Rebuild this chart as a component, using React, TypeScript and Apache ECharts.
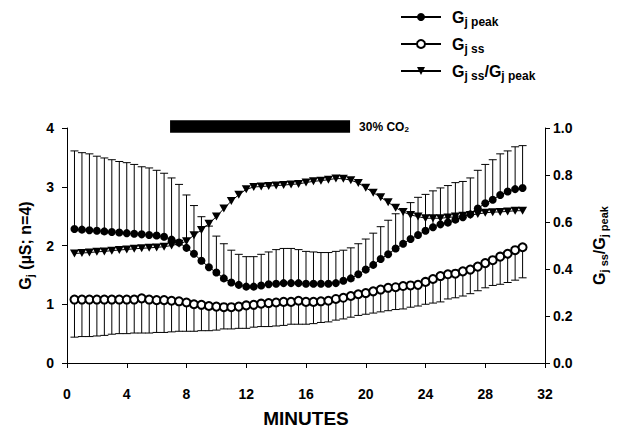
import React, { useEffect, useRef } from "react";
import * as echarts from "echarts";

// minutes 0.5 .. 30.5, every 0.5 min
const minutes: number[] = Array.from({ length: 61 }, (_, i) => 0.5 + i * 0.5);

const gPeak: number[] = [
  2.28, 2.27, 2.26, 2.25, 2.24, 2.23, 2.22, 2.21, 2.2, 2.19,
  2.18, 2.17, 2.15, 2.1, 2.05, 1.96, 1.86, 1.74, 1.63, 1.54,
  1.44, 1.37, 1.33, 1.3, 1.3, 1.32, 1.34, 1.35, 1.36, 1.36,
  1.36, 1.35, 1.35, 1.35, 1.35, 1.36, 1.4, 1.44, 1.51, 1.59,
  1.67, 1.77, 1.85, 1.95, 2.03, 2.11, 2.18, 2.25, 2.31, 2.36,
  2.39, 2.44, 2.48, 2.53, 2.63, 2.72, 2.78, 2.86, 2.92, 2.96,
  2.98,
];
const gPeakUpper: number[] = [
  3.61, 3.58, 3.56, 3.52, 3.49, 3.46, 3.43, 3.41, 3.38, 3.34,
  3.32, 3.28, 3.23, 3.15, 3.04, 2.86, 2.68, 2.49, 2.33, 2.16,
  2.03, 1.92, 1.85, 1.81, 1.81, 1.85, 1.89, 1.93, 1.95, 1.95,
  1.93, 1.9, 1.89, 1.88, 1.88, 1.9, 1.92, 1.96, 2.03, 2.11,
  2.21, 2.32, 2.43, 2.54, 2.63, 2.73, 2.82, 2.87, 2.93, 2.98,
  3.02, 3.07, 3.09, 3.15, 3.28, 3.38, 3.46, 3.56, 3.61, 3.68,
  3.7,
];
const gSS: number[] = [
  1.08, 1.08, 1.08, 1.08, 1.08, 1.08, 1.08, 1.08, 1.08, 1.1,
  1.08, 1.07, 1.07, 1.06, 1.05, 1.03, 1.0, 0.99, 0.97, 0.96,
  0.95, 0.95, 0.96, 0.98, 0.99, 1.01, 1.02, 1.03, 1.04, 1.04,
  1.06, 1.04, 1.04, 1.05, 1.06, 1.09, 1.11, 1.14, 1.17, 1.19,
  1.22, 1.25, 1.28, 1.29, 1.31, 1.32, 1.33, 1.38, 1.43, 1.48,
  1.51, 1.52, 1.56, 1.59, 1.64, 1.7, 1.75, 1.81, 1.86, 1.92,
  1.97,
];
const gSSLower: number[] = [
  0.44, 0.45, 0.45, 0.46, 0.47, 0.49, 0.5, 0.5, 0.51, 0.51,
  0.51, 0.52, 0.52, 0.53, 0.54, 0.54, 0.54, 0.55, 0.55, 0.56,
  0.58, 0.58, 0.59, 0.59, 0.61, 0.62, 0.62, 0.63, 0.64, 0.66,
  0.66, 0.66, 0.67, 0.69, 0.7, 0.73, 0.75, 0.78, 0.81, 0.83,
  0.85, 0.87, 0.89, 0.91, 0.92, 0.95, 0.97, 1.0, 1.02, 1.04,
  1.09, 1.11, 1.14, 1.18, 1.23, 1.28, 1.32, 1.34, 1.37, 1.41,
  1.45,
];
const ratio: number[] = [
  0.466, 0.468, 0.47, 0.473, 0.475, 0.478, 0.481, 0.483, 0.486, 0.488,
  0.49, 0.492, 0.495, 0.5, 0.507, 0.518, 0.544, 0.566, 0.593, 0.623,
  0.657, 0.689, 0.716, 0.739, 0.749, 0.751, 0.753, 0.755, 0.757, 0.76,
  0.762, 0.768, 0.773, 0.776, 0.78, 0.785, 0.784, 0.778, 0.766, 0.746,
  0.725, 0.705, 0.684, 0.661, 0.643, 0.63, 0.623, 0.616, 0.616, 0.616,
  0.619, 0.623, 0.627, 0.63, 0.634, 0.639, 0.642, 0.643, 0.645, 0.648,
  0.648,
];

// CO2 exposure period (minutes) and bar vertical extent (left-axis units)
const co2Period: number[] = [6.9, 18.95];
const co2BarY: number[] = [3.92, 4.13];
const co2Label = "30% CO";

const seriesNames: string[] = ["Gj peak", "Gj ss", "Gj ss/Gj peak"];
const legendLabels: string[] = [
  "{h|G}{s|j peak}",
  "{h|G}{s|j ss}",
  "{h|G}{s|j ss}{g|/G}{s|j peak}",
];

const FONT = "'Liberation Sans', Arial, Helvetica, sans-serif";

const richBig = {
  g: { fontSize: 16, fontWeight: "bold", fontFamily: FONT, color: "#000" },
  s: { fontSize: 11, fontWeight: "bold", fontFamily: FONT, color: "#000", padding: [9, 0, 0, 0] },
};
const richLegend = {
  h: { fontSize: 16, fontWeight: "bold", fontFamily: FONT, color: "#000", padding: [0, 0, 0, 6] },
  g: { fontSize: 16, fontWeight: "bold", fontFamily: FONT, color: "#000" },
  s: { fontSize: 12, fontWeight: "bold", fontFamily: FONT, color: "#000", padding: [9, 0, 0, 0] },
};

function errorBarRender(params: any, api: any) {
  const x = api.value(0);
  const m = api.value(1);
  const e = api.value(2);
  const p1 = api.coord([x, m]);
  const p2 = api.coord([x, e]);
  const hw = 4;
  const st = { stroke: "#000", lineWidth: 1, fill: "none" };
  return {
    type: "group",
    children: [
      { type: "line", shape: { x1: p1[0], y1: p1[1], x2: p2[0], y2: p2[1] }, style: st },
      { type: "line", shape: { x1: p2[0] - hw, y1: p2[1], x2: p2[0] + hw, y2: p2[1] }, style: st },
    ],
  };
}

function co2Render(params: any, api: any) {
  const a = api.coord([api.value(0), api.value(3)]);
  const b = api.coord([api.value(1), api.value(2)]);
  return {
    type: "group",
    children: [
      { type: "rect", shape: { x: a[0], y: a[1], width: b[0] - a[0], height: b[1] - a[1] }, style: { fill: "#000" } },
      {
        type: "text",
        x: b[0] + 9,
        y: (a[1] + b[1]) / 2,
        style: {
          text: "{a|" + co2Label + "}{b|2}",
          align: "left",
          verticalAlign: "middle",
          rich: {
            a: { fontSize: 12, fontWeight: "bold", fontFamily: FONT, fill: "#000" },
            b: { fontSize: 8, fontWeight: "bold", fontFamily: FONT, fill: "#000", padding: [6, 0, 0, 0] },
          },
        },
      },
    ],
  };
}

export default function App() {
  const ref = useRef<HTMLDivElement>(null);
  useEffect(() => {
    if (!ref.current) return;
    const chart = echarts.init(ref.current, undefined, { renderer: "svg" });
    const axisLabelStyle = { fontSize: 14, fontWeight: "bold" as const, fontFamily: FONT, color: "#000" };
    const lineAxis = { show: true, lineStyle: { color: "#000", width: 1 } };
    const tick = { show: true, length: 5, lineStyle: { color: "#000", width: 1 } };

    const legendTops = [9, 36, 63];
    const option: any = {
      animation: false,
      backgroundColor: "#fff",
      grid: { left: 67, right: 74, top: 128, bottom: 61, containLabel: false },
      legend: legendTops.map((t, i) => ({
        data: [seriesNames[i]],
        left: 400,
        top: t,
        padding: 0,
        itemWidth: 40,
        itemHeight: 10,
        selectedMode: false,
        formatter: () => legendLabels[i],
        textStyle: { rich: richLegend },
      })),
      xAxis: {
        type: "value",
        min: 0,
        max: 32,
        interval: 4,
        axisLine: lineAxis,
        axisTick: tick,
        splitLine: { show: false },
        axisLabel: { ...axisLabelStyle, margin: 24 },
        name: "MINUTES",
        nameLocation: "middle",
        nameGap: 46,
        nameTextStyle: { fontSize: 19, fontWeight: "bold", fontFamily: FONT, color: "#000" },
      },
      yAxis: [
        {
          type: "value",
          min: 0,
          max: 4,
          interval: 1,
          position: "left",
          axisLine: lineAxis,
          axisTick: tick,
          splitLine: { show: false },
          axisLabel: { ...axisLabelStyle, margin: 13 },
          name: "{g|G}{s|j}{g| (µS; n=4)}",
          nameLocation: "middle",
          nameRotate: 90,
          nameGap: 32,
          nameTextStyle: { rich: richBig },
        },
        {
          type: "value",
          min: 0,
          max: 1,
          interval: 0.2,
          position: "right",
          axisLine: lineAxis,
          axisTick: tick,
          splitLine: { show: false },
          axisLabel: { ...axisLabelStyle, margin: 8, formatter: (v: number) => v.toFixed(1) },
          name: "{g|G}{s|j ss}{g|/G}{s|j peak}",
          nameLocation: "middle",
          nameRotate: 90,
          nameGap: 44,
          nameTextStyle: { rich: richBig },
        },
      ],
      series: [
        {
          type: "custom",
          name: "errPeak",
          renderItem: errorBarRender,
          data: minutes.map((m, i) => [m, gPeak[i], gPeakUpper[i]]),
          encode: { x: 0, y: [1, 2] },
          z: 1,
          silent: true,
        },
        {
          type: "custom",
          name: "errSS",
          renderItem: errorBarRender,
          data: minutes.map((m, i) => [m, gSS[i], gSSLower[i]]),
          encode: { x: 0, y: [1, 2] },
          z: 1,
          silent: true,
        },
        {
          type: "custom",
          name: "co2",
          renderItem: co2Render,
          data: [[co2Period[0], co2Period[1], co2BarY[0], co2BarY[1]]],
          encode: { x: [0, 1], y: [2, 3] },
          clip: false,
          z: 1,
          silent: true,
        },
        {
          type: "line",
          name: seriesNames[0],
          data: minutes.map((m, i) => [m, gPeak[i]]),
          symbol: "circle",
          symbolSize: 8,
          itemStyle: { color: "#000" },
          lineStyle: { color: "#000", width: 1 },
          z: 3,
        },
        {
          type: "line",
          name: seriesNames[1],
          data: minutes.map((m, i) => [m, gSS[i]]),
          symbol: "emptyCircle",
          symbolSize: 8,
          showAllSymbol: true,
          itemStyle: { color: "#000", borderColor: "#000", borderWidth: 1 },
          lineStyle: { color: "#000", width: 1 },
          z: 3,
        },
        {
          type: "line",
          name: seriesNames[2],
          yAxisIndex: 1,
          data: minutes.map((m, i) => [m, ratio[i]]),
          symbol: "triangle",
          symbolRotate: 180,
          symbolSize: [9, 8],
          itemStyle: { color: "#000" },
          lineStyle: { color: "#000", width: 1 },
          z: 3,
        },
      ],
    };
    chart.setOption(option);
    return () => chart.dispose();
  }, []);
  return (
    <div
      ref={ref}
      style={{ position: "fixed", left: 0, top: 0, width: 619, height: 433, background: "#fff" }}
    />
  );
}
